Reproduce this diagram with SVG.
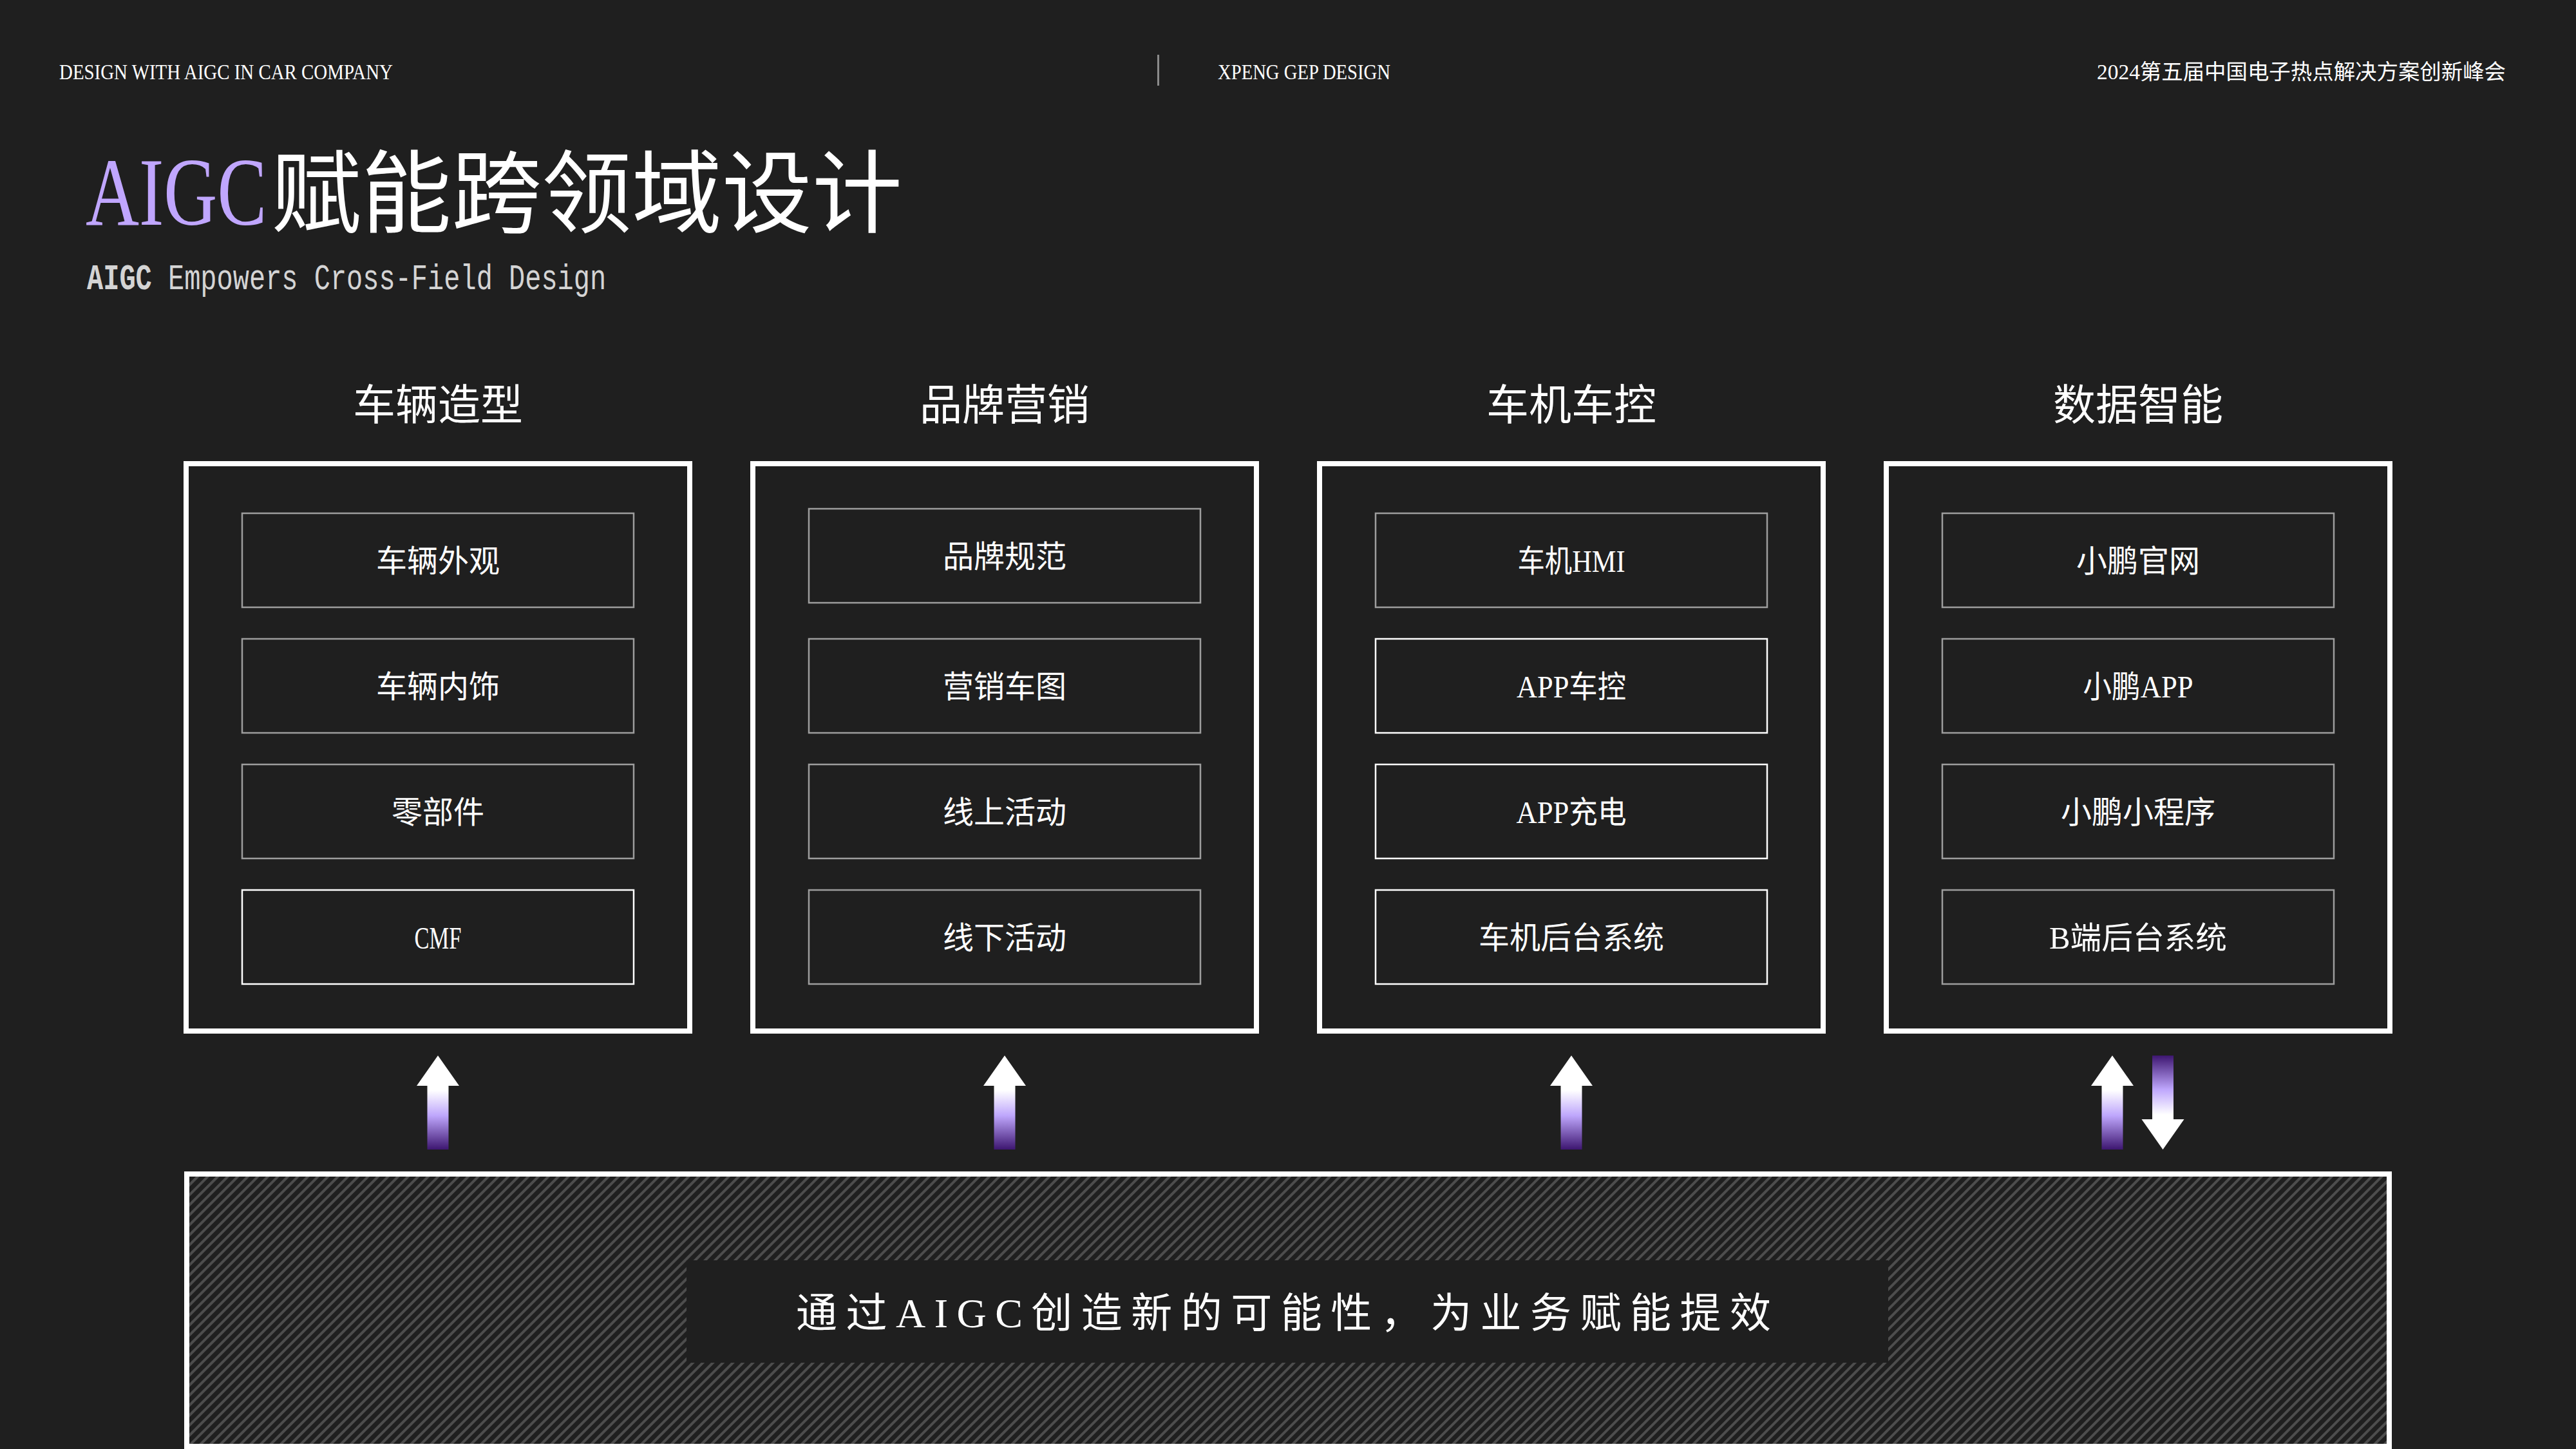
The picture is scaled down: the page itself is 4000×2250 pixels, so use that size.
<svg xmlns="http://www.w3.org/2000/svg" width="4000" height="2250" viewBox="0 0 4000 2250">
<defs>
<style>
.bg{fill:#1f1f1f}
.hdr{font-family:"Liberation Serif","Noto Sans CJK SC",serif;font-size:34px;fill:#ffffff}
.cat{font-family:"Noto Sans CJK SC",sans-serif;font-size:66px;fill:#ffffff;text-anchor:middle}
.item{font-family:"Liberation Serif","Noto Sans CJK SC",sans-serif;font-size:48px;fill:#ffffff;text-anchor:middle}
.outer{fill:#1f1f1f;stroke:#ffffff;stroke-width:8}
.box{fill:#1f1f1f;stroke:#9d9d9d;stroke-width:2.5}
.boxw{fill:#1f1f1f;stroke:#ffffff;stroke-width:2.5}
</style>
<linearGradient id="gUp" x1="0" y1="0" x2="0" y2="1">
<stop offset="0" stop-color="#ffffff"/>
<stop offset="0.37" stop-color="#ffffff"/>
<stop offset="0.64" stop-color="#bea6fc"/>
<stop offset="1" stop-color="#3d1670"/>
</linearGradient>
<linearGradient id="gDown" x1="0" y1="0" x2="0" y2="1">
<stop offset="0" stop-color="#3d1670"/>
<stop offset="0.36" stop-color="#bea6fc"/>
<stop offset="0.63" stop-color="#ffffff"/>
<stop offset="1" stop-color="#ffffff"/>
</linearGradient>
<pattern id="hatch" patternUnits="userSpaceOnUse" width="11" height="11" patternTransform="rotate(45)">
<rect width="11" height="11" fill="#1f1f1f"/>
<rect width="4" height="11" fill="#4d4d4d"/>
</pattern>
</defs>
<rect class="bg" x="0" y="0" width="4000" height="2250"/>

<g id="header">
<text class="hdr" x="92" y="123" textLength="518" lengthAdjust="spacingAndGlyphs">DESIGN WITH AIGC IN CAR COMPANY</text>
<rect x="1797" y="85" width="3" height="48" fill="#8a8a8a"/>
<text class="hdr" x="1891" y="123" textLength="268" lengthAdjust="spacingAndGlyphs">XPENG GEP DESIGN</text>
<text class="hdr" x="3256" y="123" textLength="635" lengthAdjust="spacingAndGlyphs" style="font-size:33.5px">2024第五届中国电子热点解决方案创新峰会</text>
</g>

<g id="title">
<text transform="translate(133,349) scale(1,1.3)" font-family="Liberation Serif, serif" font-size="115" fill="#c0a6fe">AIGC</text>
<text x="421" y="350" font-family="Noto Sans CJK SC, sans-serif" font-size="140" fill="#ffffff">赋能跨领域设计</text>
<text transform="translate(135,449) scale(1,1.3)" font-family="Liberation Mono, monospace" font-size="42" fill="#d4d4d4"><tspan font-weight="bold">AIGC</tspan> Empowers Cross-Field Design</text>
</g>

<g id="col-vehicle-styling">
<text class="cat" x="680" y="652">车辆造型</text>
<rect class="outer" x="289" y="720" width="782" height="881"/>
<g id="n-exterior"><rect class="box" x="376" y="797" width="608" height="146"/><text class="item" x="680" y="888">车辆外观</text></g>
<g id="n-interior"><rect class="box" x="376" y="992" width="608" height="146"/><text class="item" x="680" y="1083">车辆内饰</text></g>
<g id="n-parts"><rect class="box" x="376" y="1187" width="608" height="146"/><text class="item" x="680" y="1278">零部件</text></g>
<g id="n-cmf"><rect class="boxw" x="376" y="1382" width="608" height="146"/><text class="item" x="680" y="1473" textLength="73" lengthAdjust="spacingAndGlyphs">CMF</text></g>
</g>

<g id="col-brand-marketing">
<text class="cat" x="1560" y="652">品牌营销</text>
<rect class="outer" x="1169" y="720" width="782" height="881"/>
<g id="n-brand-spec"><rect class="box" x="1256" y="790" width="608" height="146"/><text class="item" x="1560" y="881">品牌规范</text></g>
<g id="n-marketing-img"><rect class="box" x="1256" y="992" width="608" height="146"/><text class="item" x="1560" y="1083">营销车图</text></g>
<g id="n-online"><rect class="box" x="1256" y="1187" width="608" height="146"/><text class="item" x="1560" y="1278">线上活动</text></g>
<g id="n-offline"><rect class="box" x="1256" y="1382" width="608" height="146"/><text class="item" x="1560" y="1473">线下活动</text></g>
</g>

<g id="col-infotainment">
<text class="cat" x="2440" y="652">车机车控</text>
<rect class="outer" x="2049" y="720" width="782" height="881"/>
<g id="n-hmi"><rect class="box" x="2136" y="797" width="608" height="146"/><text class="item" x="2440" y="888" textLength="167" lengthAdjust="spacingAndGlyphs">车机HMI</text></g>
<g id="n-app-control"><rect class="boxw" x="2136" y="992" width="608" height="146"/><text class="item" x="2440" y="1083" textLength="170" lengthAdjust="spacingAndGlyphs">APP车控</text></g>
<g id="n-app-charge"><rect class="boxw" x="2136" y="1187" width="608" height="146"/><text class="item" x="2440" y="1278" textLength="171" lengthAdjust="spacingAndGlyphs">APP充电</text></g>
<g id="n-backend"><rect class="boxw" x="2136" y="1382" width="608" height="146"/><text class="item" x="2440" y="1473">车机后台系统</text></g>
</g>

<g id="col-data-intelligence">
<text class="cat" x="3320" y="652">数据智能</text>
<rect class="outer" x="2929" y="720" width="782" height="881"/>
<g id="n-website"><rect class="box" x="3016" y="797" width="608" height="146"/><text class="item" x="3320" y="888">小鹏官网</text></g>
<g id="n-xp-app"><rect class="box" x="3016" y="992" width="608" height="146"/><text class="item" x="3320" y="1083" textLength="171" lengthAdjust="spacingAndGlyphs">小鹏APP</text></g>
<g id="n-miniprogram"><rect class="box" x="3016" y="1187" width="608" height="146"/><text class="item" x="3320" y="1278">小鹏小程序</text></g>
<g id="n-b-backend"><rect class="box" x="3016" y="1382" width="608" height="146"/><text class="item" x="3320" y="1473" textLength="276" lengthAdjust="spacingAndGlyphs">B端后台系统</text></g>
</g>

<g id="connectors">
<polygon fill="url(#gUp)" points="680,1639 713,1686 696.5,1686 696.5,1785 663.5,1785 663.5,1686 647,1686"/>
<polygon fill="url(#gUp)" points="1560,1639 1593,1686 1576.5,1686 1576.5,1785 1543.5,1785 1543.5,1686 1527,1686"/>
<polygon fill="url(#gUp)" points="2440,1639 2473,1686 2456.5,1686 2456.5,1785 2423.5,1785 2423.5,1686 2407,1686"/>
<polygon fill="url(#gUp)" points="3280,1639 3313,1686 3296.5,1686 3296.5,1785 3263.5,1785 3263.5,1686 3247,1686"/>
<polygon fill="url(#gDown)" points="3342,1639 3375,1639 3375,1738 3391.5,1738 3358.5,1785 3325.5,1738 3342,1738"/>
</g>

<g id="foundation">
<rect x="290" y="1823" width="3420" height="423" fill="url(#hatch)" stroke="#ffffff" stroke-width="8"/>
<rect x="1066" y="1957" width="1866" height="159" fill="#1f1f1f"/>
<text x="1236" y="2061" font-family="Liberation Serif, Noto Sans CJK SC, sans-serif" font-size="64" fill="#ffffff" textLength="1514" lengthAdjust="spacing">通过AIGC创造新的可能性，为业务赋能提效</text>
</g>
</svg>
